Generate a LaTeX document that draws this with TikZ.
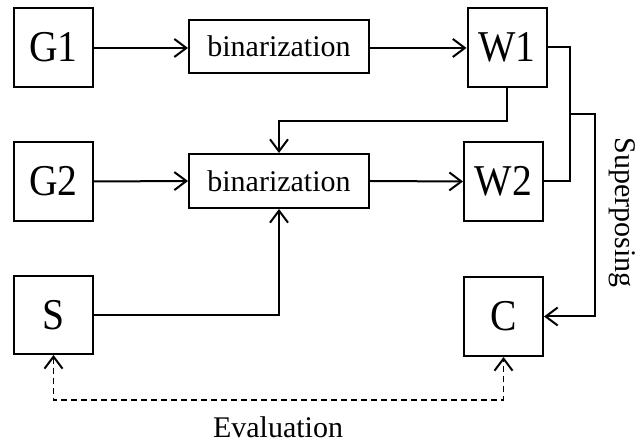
\documentclass[tikz,border=0pt]{standalone}
\usepackage{fontspec}
\setmainfont{Liberation Serif}
\newfontfamily\boxfont[FakeStretch=0.9]{Liberation Serif}
\usetikzlibrary{arrows.meta}
\begin{document}
\begin{tikzpicture}[x=1pt,y=-1pt,
  box/.style={draw,line width=2pt,inner sep=0pt,minimum width=79pt,minimum height=79pt,font=\boxfont\fontsize{44}{44}\selectfont},
  binbox/.style={draw,line width=2pt,inner sep=0pt,minimum width=180pt,minimum height=53pt,font=\fontsize{30}{30}\selectfont},
  tip/.style={-{Straight Barb[length=12pt,width=18pt,line width=2pt]}},
  conn/.style={line width=2pt,tip},
  wire/.style={line width=2pt},
  lbl/.style={font=\fontsize{30}{30}\selectfont}]
\useasboundingbox (0,0) rectangle (643,443);

% blocks
\node[box] (G1) at (53.5,47.5) {G1};
\node[binbox] (B1) at (279,46.5) {binarization};
\node[box] (W1) at (507,47.5) {W1};
\node[box] (G2) at (53.5,181.5) {G2};
\node[binbox,minimum height=54pt] (B2) at (279,181) {binarization};
\node[box] (W2) at (503.5,181.5) {W2};
\node[box,minimum height=78pt] (S) at (53.5,315) {S};
\node[box] (C) at (503.5,316.5) {C};

% routing points
\coordinate (fb) at (507,121);
\coordinate (bus) at (570,114);
\coordinate (sp) at (595,114);
\coordinate (ev) at (280,400);

% main flow
\draw[conn] (G1.east |- 0,48) -- (B1.west |- 0,48);
\draw[conn] (B1.east |- 0,48) -- (W1.west |- 0,48);
\draw[conn] (G2.east) -- (B2.west);
\draw[conn] (B2.east) -- (W2.west);

% feedback from W1 into the second binarization
\draw[conn] (W1.south) -- (fb) -| (B2.north);

% superposing W1 and W2 into C
\draw[wire] (W1.east) -| (bus) |- (W2.east);
\draw[conn] (bus) -- (sp) |- (C.east);
\node[lbl,rotate=-90] (sup) at (622,213) {Superposing};

% S into the second binarization
\draw[conn] (S.east) -| (B2.south);

% evaluation between S and C
\draw[line width=1.8pt,dash pattern=on 6pt off 4pt,
  {Straight Barb[length=12pt,width=18pt,line width=2pt]}-{Straight Barb[length=12pt,width=18pt,line width=2pt]}]
  (S.south) |- (ev) -| (C.south);
\node[lbl] (evl) at (278,427) {Evaluation};
\end{tikzpicture}
\end{document}
